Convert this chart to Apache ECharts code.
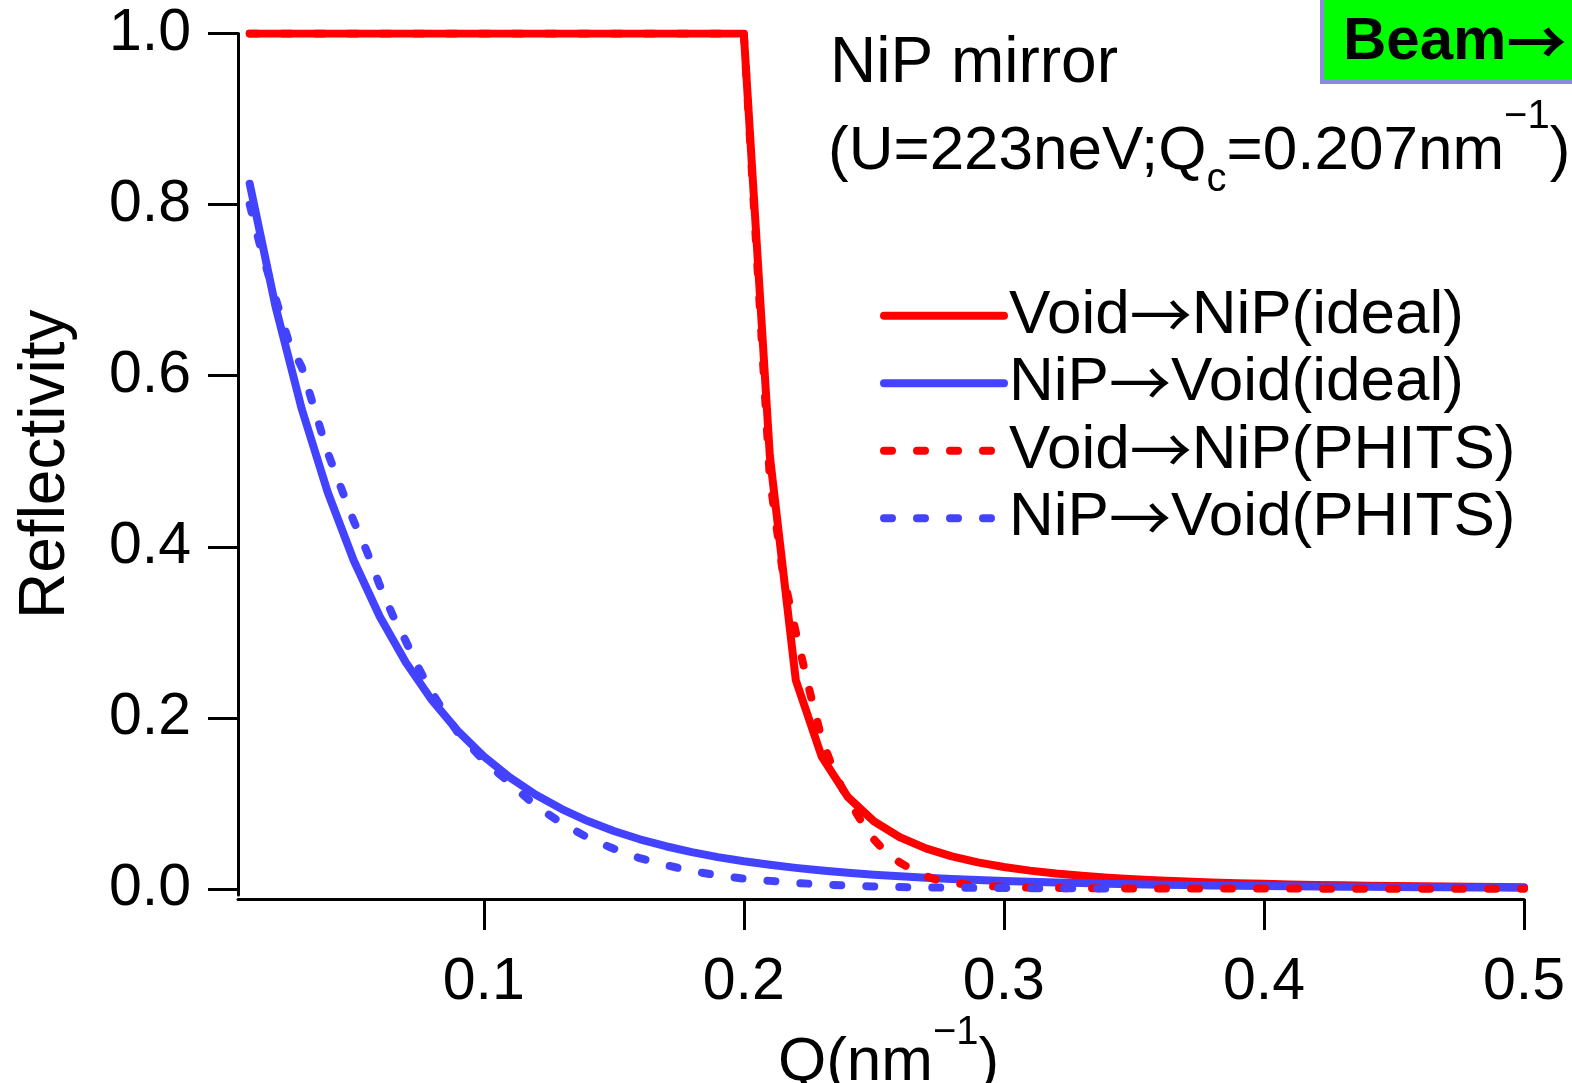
<!DOCTYPE html>
<html>
<head>
<meta charset="utf-8">
<script src="https://cdn.jsdelivr.net/npm/echarts@6/dist/echarts.min.js"></script>
<style>
  html, body { margin: 0; padding: 0; background: #ffffff; }
  #chart { width: 1572px; height: 1083px; }
</style>
</head>
<body>
<div id="chart"></div>
<script>
// Momentum transfer Q (nm^-1) for the ideal curves
const qIdeal = [
  0.01, 0.02, 0.03, 0.04, 0.05, 0.06, 0.07, 0.08, 0.09, 0.10,
  0.11, 0.12, 0.13, 0.14, 0.15, 0.16, 0.17, 0.18, 0.19, 0.20,
  0.21, 0.22, 0.23, 0.24, 0.25, 0.26, 0.27, 0.28, 0.29, 0.30,
  0.31, 0.32, 0.33, 0.34, 0.35, 0.36, 0.37, 0.38, 0.39, 0.40,
  0.41, 0.42, 0.43, 0.44, 0.45, 0.46, 0.47, 0.48, 0.49, 0.50
];
// Void -> NiP, ideal reflectivity
const rVoidNiPIdeal = [
  1, 1, 1, 1, 1, 1, 1, 1, 1, 1,
  1, 1, 1, 1, 1, 1, 1, 1, 1, 1,
  0.5065, 0.244, 0.1544, 0.1076, 0.0792, 0.0605, 0.0475, 0.0381, 0.0311, 0.0257,
  0.0215, 0.0181, 0.0155, 0.0133, 0.0115, 0.0100, 0.0088, 0.0077, 0.0068, 0.0061,
  0.0054, 0.0048, 0.0043, 0.0039, 0.0035, 0.0032, 0.0029, 0.0026, 0.0024, 0.0022
];
// NiP -> Void, ideal reflectivity
const rNiPVoidIdeal = [
  0.8244, 0.6799, 0.5612, 0.4638, 0.3840, 0.3186, 0.2650, 0.2210, 0.1848, 0.1550,
  0.1305, 0.1102, 0.0934, 0.0794, 0.0678, 0.0581, 0.0500, 0.0431, 0.0373, 0.0324,
  0.0283, 0.0247, 0.0217, 0.0191, 0.0168, 0.0149, 0.0132, 0.0118, 0.0105, 0.0094,
  0.0085, 0.0076, 0.0069, 0.0062, 0.0056, 0.0051, 0.0046, 0.0042, 0.0038, 0.0035,
  0.0032, 0.0030, 0.0027, 0.0025, 0.0023, 0.0021, 0.0020, 0.0018, 0.0017, 0.0016
];

// Void -> NiP, PHITS simulation
const qVoidNiPPhits = [
  0.01, 0.02, 0.03, 0.04, 0.05, 0.06, 0.07, 0.08, 0.09, 0.10,
  0.11, 0.12, 0.13, 0.14, 0.15, 0.16, 0.17, 0.18, 0.19, 0.20,
  0.21, 0.215, 0.22, 0.225, 0.23, 0.235, 0.24, 0.245, 0.25, 0.255,
  0.26, 0.265, 0.27, 0.275, 0.28, 0.285, 0.29, 0.30,
  0.31, 0.32, 0.33, 0.34, 0.35, 0.36, 0.37, 0.38, 0.39, 0.40,
  0.41, 0.42, 0.43, 0.44, 0.45, 0.46, 0.47, 0.48, 0.49, 0.50
];
const rVoidNiPPhits = [
  1, 1, 1, 1, 1, 1, 1, 1, 1, 1,
  1, 1, 1, 1, 1, 1, 1, 1, 1, 1,
  0.48, 0.37, 0.30, 0.235, 0.175, 0.135, 0.105, 0.08, 0.058, 0.042,
  0.031, 0.022, 0.015, 0.010, 0.0075, 0.0055, 0.004, 0.0025,
  0.0015, 0.0011, 0.0009, 0.0008, 0.0007, 0.0007, 0.0006, 0.0006, 0.0005, 0.0005,
  0.0005, 0.0004, 0.0004, 0.0004, 0.0004, 0.0003, 0.0003, 0.0003, 0.0003, 0.0003
];

// NiP -> Void, PHITS simulation
const qNiPVoidPhits = [
  0.01, 0.015, 0.02, 0.025, 0.03, 0.035, 0.04, 0.045, 0.05, 0.055,
  0.06, 0.065, 0.07, 0.075, 0.08, 0.085, 0.09,
  0.10, 0.11, 0.12, 0.13, 0.14, 0.15, 0.16, 0.17, 0.18, 0.19, 0.20,
  0.21, 0.22, 0.23, 0.24, 0.25, 0.26, 0.27, 0.28, 0.29, 0.30,
  0.31, 0.32, 0.33, 0.34
];
const rNiPVoidPhits = [
  0.80, 0.74, 0.69, 0.64, 0.61, 0.56, 0.51, 0.47, 0.43, 0.395,
  0.355, 0.32, 0.29, 0.258, 0.23, 0.206, 0.183,
  0.150, 0.124, 0.097, 0.077, 0.060, 0.047, 0.036, 0.028, 0.021, 0.016, 0.012,
  0.0095, 0.0072, 0.0053, 0.0040, 0.0030, 0.0023, 0.0018, 0.0015, 0.0013, 0.0011,
  0.0010, 0.0009, 0.0008, 0.0007
];

const seriesNames = [
  'Void\u2192NiP(ideal)',
  'NiP\u2192Void(ideal)',
  'Void\u2192NiP(PHITS)',
  'NiP\u2192Void(PHITS)'
];
const xTickValues = [0.1, 0.2, 0.3, 0.4, 0.5];
const yTickValues = [0.0, 0.2, 0.4, 0.6, 0.8, 1.0];

const RED = '#ff0000';
const BLUE = '#4343ff';
const ARROW = '\u2192';
const SANS = '"Liberation Sans", Arial, "Noto Sans CJK JP", sans-serif';
const CJK = '"Noto Sans CJK JP", "Noto Sans CJK SC", sans-serif';

function pairs(q, r) {
  return q.map((x, i) => [x, r[i]]);
}

function lineSeries(name, q, r, color, dashed) {
  return {
    name: name,
    type: 'line',
    data: pairs(q, r),
    symbol: 'none',
    showSymbol: false,
    clip: true,
    lineStyle: {
      color: color,
      width: 8,
      type: dashed ? [8, 25] : 'solid',
      cap: 'round',
      join: 'round'
    },
    itemStyle: { color: color },
    emphasis: { disabled: true }
  };
}

// text runs laid out left to right, with measured advances
const measureCtx = document.createElement('canvas').getContext('2d');
function textWidth(str, font) {
  measureCtx.font = font;
  return measureCtx.measureText(str).width;
}
function textRun(parts, x, y) {
  const out = [];
  let cx = x;
  parts.forEach(p => {
    const font = (p.bold ? 'bold ' : '') + p.size + 'px ' + (p.family || SANS);
    out.push({
      type: 'text',
      x: cx,
      y: y + (p.dy || 0),
      z: 100,
      style: {
        text: p.text,
        font: font,
        fill: '#000000',
        textAlign: 'left',
        textVerticalAlign: 'middle',
        verticalAlign: 'middle'
      }
    });
    cx += textWidth(p.text, font) + (p.gap || 0);
  });
  return out;
}

const graphics = [].concat(
  // beam direction tag
  [{
    type: 'rect',
    z: 90,
    shape: { x: 1322, y: -20, width: 300, height: 102 },
    style: { fill: '#00ff00', stroke: '#8a8ade', lineWidth: 4 }
  }],
  textRun([
    { text: 'Beam', size: 60, bold: true },
    { text: ARROW, size: 60, bold: true, family: CJK }
  ], 1343, 42),
  textRun([{ text: 'NiP mirror', size: 64 }], 830, 64),
  textRun([
    { text: '(U=223neV;Q', size: 62 },
    { text: 'c', size: 40, dy: 28 },
    { text: '=0.207nm', size: 62 },
    { text: '\u22121', size: 40, dy: -35 },
    { text: ')', size: 62 }
  ], 828, 152),
  textRun([
    { text: 'Q(nm', size: 62 },
    { text: '\u22121', size: 40, dy: -30 },
    { text: ')', size: 62 }
  ], 778, 1063)
);

const option = {
  animation: false,
  backgroundColor: '#ffffff',
  grid: { left: 238, right: 48, top: 33.5, bottom: 188, containLabel: false },
  legend: {
    data: seriesNames,
    orient: 'vertical',
    left: 880,
    top: 282,
    padding: 0,
    itemGap: 0,
    itemWidth: 120,
    itemHeight: 2,
    selectedMode: false,
    itemStyle: { opacity: 0 },
    lineStyle: { width: 'inherit', type: 'inherit', cap: 'inherit' },
    formatter: name => name.replace(ARROW, '{arrow|' + ARROW + '}'),
    textStyle: {
      fontSize: 62, lineHeight: 67.5, color: '#000000', fontFamily: SANS,
      rich: {
        arrow: { fontSize: 62, lineHeight: 67.5, color: '#000000', fontFamily: CJK }
      }
    }
  },
  xAxis: {
    type: 'value',
    min: 0.0055,
    max: 0.5,
    offset: 4,
    axisLine: { onZero: false, lineStyle: { color: '#000000', width: 3 } },
    axisTick: { length: 31, customValues: xTickValues, lineStyle: { color: '#000000', width: 3 } },
    axisLabel: {
      customValues: xTickValues,
      fontSize: 59,
      fontFamily: SANS,
      color: '#000000',
      margin: 54,
      formatter: v => v.toFixed(1)
    },
    splitLine: { show: false }
  },
  yAxis: {
    type: 'value',
    min: -0.007,
    max: 1.0,
    name: 'Reflectivity',
    nameLocation: 'middle',
    nameRotate: 90,
    nameGap: 160,
    nameTextStyle: { fontSize: 64, color: '#000000', fontFamily: SANS },
    axisLine: { lineStyle: { color: '#000000', width: 3 } },
    axisTick: { length: 30, customValues: yTickValues, lineStyle: { color: '#000000', width: 3 } },
    axisLabel: {
      customValues: yTickValues,
      fontSize: 59,
      fontFamily: SANS,
      color: '#000000',
      margin: 47,
      formatter: v => v.toFixed(1)
    },
    splitLine: { show: false }
  },
  series: [
    lineSeries(seriesNames[0], qIdeal, rVoidNiPIdeal, RED, false),
    lineSeries(seriesNames[1], qIdeal, rNiPVoidIdeal, BLUE, false),
    lineSeries(seriesNames[2], qVoidNiPPhits, rVoidNiPPhits, RED, true),
    lineSeries(seriesNames[3], qNiPVoidPhits, rNiPVoidPhits, BLUE, true)
  ],
  graphic: graphics
};

const chart = echarts.init(document.getElementById('chart'), null, { renderer: 'canvas' });
chart.setOption(option);
</script>
</body>
</html>
